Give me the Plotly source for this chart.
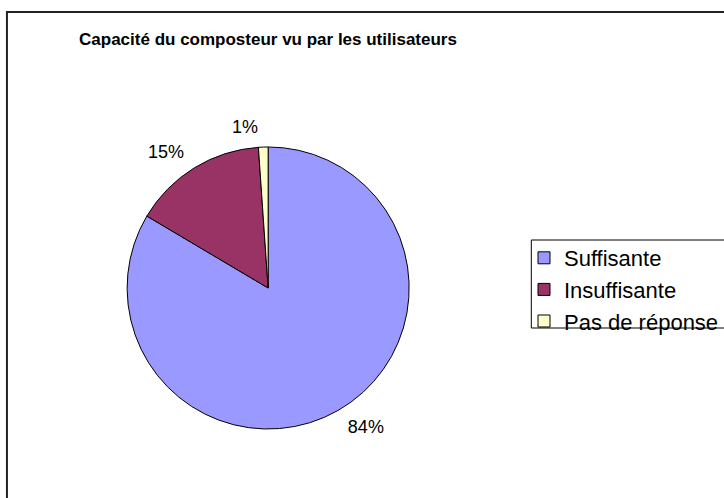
import plotly.graph_objects as go

labels = ["Suffisante", "Insuffisante", "Pas de réponse"]
counts = [76, 14, 1]
colors = ["#9999FF", "#993366", "#FFFFCC"]
title_text = "Capacité du composteur vu par les utilisateurs"

W, H = 724, 498

def px_x(x):
    return x / W

def px_y(y):
    return 1 - y / H

cx, cy, half = 270, 288, 142
label_half = 152

def dom(h):
    return dict(x=[px_x(cx - h), px_x(cx + h)], y=[px_y(cy + h), px_y(cy - h)])

fig = go.Figure()
fig.add_trace(go.Pie(
    labels=labels,
    values=counts,
    marker=dict(colors=colors, line=dict(color="black", width=1)),
    sort=False,
    direction="clockwise",
    rotation=0,
    textinfo="none",
    domain=dom(half),
    showlegend=True,
    hoverinfo="label+percent",
))
# percentage labels, placed a little further from the pie edge
fig.add_trace(go.Pie(
    labels=labels,
    values=counts,
    marker=dict(colors=["rgba(0,0,0,0)"] * len(labels), line=dict(width=0)),
    sort=False,
    direction="clockwise",
    rotation=0,
    textinfo="percent",
    texttemplate="%{percent:.0%}",
    textposition="outside",
    outsidetextfont=dict(family="Liberation Sans, Arial, sans-serif", size=18, color="black"),
    domain=dom(label_half),
    showlegend=False,
    hoverinfo="skip",
))

fig.update_layout(
    width=W, height=H,
    margin=dict(l=0, r=0, t=0, b=0),
    paper_bgcolor="white",
    plot_bgcolor="white",
    title=dict(
        text="<b>" + title_text + "</b>",
        x=px_x(268), xanchor="center",
        y=px_y(39), yanchor="middle",
        font=dict(family="Liberation Sans, Arial, sans-serif", size=17, color="black"),
    ),
    legend=dict(
        x=px_x(528), xanchor="left",
        y=px_y(237), yanchor="top",
        borderwidth=0,
        bgcolor="rgba(0,0,0,0)",
        font=dict(family="Liberation Sans, Arial, sans-serif", size=22, color="black"),
    ),
    shapes=[
        dict(
            type="rect", xref="paper", yref="paper",
            x0=px_x(7), x1=1.2, y0=-0.2, y1=px_y(12),
            line=dict(color="#222222", width=2), layer="below",
        ),
        dict(
            type="rect", xref="paper", yref="paper",
            x0=px_x(535), x1=1.2, y0=px_y(328), y1=px_y(240),
            line=dict(color="black", width=1), fillcolor="white", layer="below",
        ),
    ],
)

fig.write_html("out.html", config={"displayModeBar": False},
               post_script="document.body.style.margin='0';")
